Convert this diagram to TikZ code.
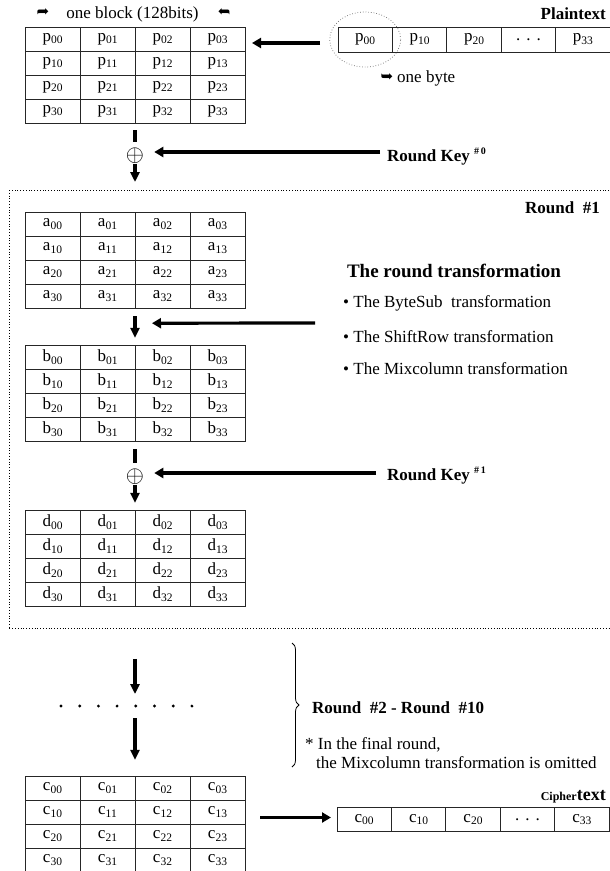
\documentclass[tikz,border=0pt]{standalone}
\usepackage{fontspec}
\setmainfont{Liberation Serif}
\newfontfamily\dejavu{DejaVu Sans}
\usepackage{graphicx}
\usetikzlibrary{arrows.meta,decorations.pathreplacing,calc,fit,shapes.geometric}

\newcommand\fs{\fontsize{17}{20}\selectfont}
\newcommand\sbs[1]{\raisebox{-2.5pt}{\fontsize{11.5}{12}\selectfont #1}}
\newcommand\curv[1]{{\dejavu\fontsize{15}{15}\selectfont #1}}

\tikzset{
  cell/.style={draw=black!85, line width=0.9pt, minimum width=55pt, minimum height=24pt, inner sep=0pt, outer sep=0pt, font=\fs},
  bcell/.style={cell, minimum width=54.4pt},
  thk/.style={line width=3.2pt},
  arr/.style={thk, -{Triangle[width=10pt,length=9pt]}},
  varr/.style={thk, -{Triangle[width=9pt,length=10pt]}},
  lbl/.style={inner sep=0pt, font=\fs},
  blbl/.style={inner sep=0pt, font=\fs\bfseries},
  xorsym/.style={inner sep=0pt, minimum size=13pt, font=\fs},
  bigdot/.style={fill=black, circle, inner sep=0pt, minimum size=3.2pt},
}

\newcommand\stategrid[4]{%
  \foreach \ii in {0,...,3}{\foreach \jj in {0,...,3}{
    \node[cell] (#1-\ii-\jj) at ({#3+27.5+55*\jj},{#4+12+24*\ii}) {#2\sbs{\ii\jj}};}}
  \node[fit=(#1-0-0)(#1-3-3), inner sep=0pt] (#1) {};
}

\begin{document}
\begin{tikzpicture}[x=1pt,y=-1pt]
\useasboundingbox (0,0) rectangle (610,871);
\fill[white] (0,0) rectangle (610,871);

% ---- top: plaintext block
\node[lbl] (blkL) at (43,13) {\curv{➦}};
\node[lbl] (blk) at (132.5,14) {one block (128bits)};
\node[lbl] (blkR) at (224,13) {\reflectbox{\curv{➦}}};
\stategrid{P}{p}{25}{27}

\foreach \t [count=\k from 0] in {p\sbs{00},p\sbs{10},p\sbs{20},{.\hspace{6pt}.\hspace{6pt}.},p\sbs{33}}
  \node[bcell, minimum height=25pt] (pt-\k) at ({338+27.2+54.4*\k},39.5) {\t};
\node[draw=black!60, dotted, line width=0.7pt, ellipse, minimum width=71pt, minimum height=55pt, inner sep=0pt] (sel) at (pt-0) {};
\node[blbl, anchor=east] (plain) at (606,14) {Plaintext};
\node[lbl] (byteA) at (387,77) {\curv{➥}};
\node[lbl, anchor=west] (byte) at (397,78) {one byte};

\draw[arr] ($(pt-0.west)+(-18,3.5)$) -- ($(P-0-3.east)+(7,4)$);

% ---- round key 0
\node[xorsym] (xor0) at (135,156) {\scalebox{1.35}{$\oplus$}};
\draw[thk] ($(P.south)+(0,7)$) -- ($(xor0.north)+(0,-6.5)$);
\node[blbl, anchor=west] (rk0) at (387,157) {Round Key\ \raisebox{7pt}{\fontsize{10}{10}\selectfont\bfseries\#\,0}};
\draw[arr] ($(rk0.west)+(-7,-5)$) -- ($(xor0.east)+(10,-4)$);

% ---- round 1 box
\node[draw, dotted, line width=0.8pt, minimum width=603pt, minimum height=438pt, anchor=north west, inner sep=0pt] (R1) at (9,190) {};
\draw[varr] (xor0.south) -- ($(xor0.south |- R1.north)+(0,-8)$);
\node[blbl, anchor=east] (r1) at (600,208) {Round\ \ \#1};

\stategrid{A}{a}{25}{212}
\stategrid{B}{b}{25}{345}

\node[lbl, font=\fontsize{19}{22}\selectfont\bfseries] (head) at (454,271) {The round transformation};
\node[lbl, anchor=west] (bul1) at (343,303) {\textbullet\ The ByteSub\ \ transformation};
\node[lbl, anchor=west] (bul2) at (343,337) {\textbullet\ The ShiftRow transformation};
\node[lbl, anchor=west] (bul3) at (343,369) {\textbullet\ The Mixcolumn transformation};

\draw[varr] ($(A.south)+(0,8)$) -- ($(B.north)+(0,-7)$);
\coordinate (bs) at (315,323);
\coordinate (be) at ($(A.south)+(17,15)$);
\draw[arr] (bs) -- (be);

% ---- round key 1
\node[xorsym] (xor1) at (135,477) {\scalebox{1.35}{$\oplus$}};
\draw[thk] ($(B.south)+(0,8)$) -- ($(xor1.north)+(0,-6.5)$);
\stategrid{D}{d}{25}{510}
\draw[varr] (xor1.south) -- ($(D.north)+(0,-7)$);
\node[blbl, anchor=west] (rk1) at (387,476) {Round Key\ \raisebox{7pt}{\fontsize{10}{10}\selectfont\bfseries\#\,1}};
\draw[arr] ($(rk1.west)+(-11,-3)$) -- ($(xor1.east)+(10,-4)$);

% ---- rounds 2..10
\stategrid{C}{c}{25}{776}
\foreach \k in {0,...,7}
  \node[bigdot] (dot-\k) at ({61+18.7*\k},706) {};
\coordinate (dots) at (135,706);
\draw[varr] ($(R1.south -| C.north)+(0,30)$) -- ($(dots)+(0,-12)$);
\draw[varr] ($(dots)+(0,12)$) -- ($(C.north)+(0,-16)$);

\draw[decorate, decoration={brace, amplitude=7pt}, line width=0.8pt] (292,643) -- (292,767);
\node[blbl, anchor=west] (r210) at (312,708) {Round\ \ \#2 - Round\ \ \#10};
\node[lbl, anchor=west] (fin1) at (305,745) {* In the final round,};
\node[lbl, anchor=west] (fin2) at (316,763) {the Mixcolumn transformation is omitted};

% ---- ciphertext
\foreach \t [count=\k from 0] in {c\sbs{00},c\sbs{10},c\sbs{20},{.\hspace{6pt}.\hspace{6pt}.},c\sbs{33}}
  \node[bcell] (ct-\k) at ({337+27.2+54.4*\k},819.5) {\t};
\node[inner sep=0pt, anchor=east] (ciph) at (606,797) {{\fontsize{12}{12}\selectfont\bfseries Cipher}{\fontsize{18}{18}\selectfont\bfseries text}};
\draw[arr] ($(C.east |- ct-0.west)+(15,-2)$) -- ($(ct-0.west)+(-6,-2)$);
\end{tikzpicture}
\end{document}
